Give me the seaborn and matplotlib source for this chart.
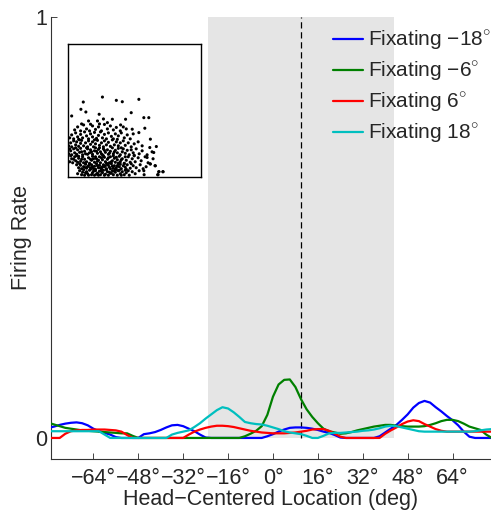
import numpy as np
import pandas as pd
import matplotlib
matplotlib.use("Agg")
import matplotlib.pyplot as plt
import seaborn as sns

# ---------------------------------------------------------------- data
locations = list(range(-80, 81, 2))

rate_fix_m18 = [0.024, 0.027, 0.031, 0.034, 0.036, 0.037, 0.035, 0.030, 0.022, 0.016,
                0.012, 0.008, 0.002, 0.0, 0.0, 0.0, 0.0, 0.009, 0.011, 0.014,
                0.019, 0.025, 0.030, 0.031, 0.028, 0.022, 0.016, 0.008, 0.001, 0.0,
                0.0, 0.0, 0.0, 0.0, 0.0, 0.0, 0.0, 0.0, 0.0, 0.004,
                0.009, 0.015, 0.020, 0.024, 0.025, 0.025, 0.024, 0.022, 0.019, 0.015,
                0.012, 0.007, 0.001, 0.0, 0.0, 0.0, 0.0, 0.0, 0.0, 0.004,
                0.013, 0.022, 0.031, 0.043, 0.056, 0.072, 0.083, 0.088, 0.084, 0.073,
                0.063, 0.052, 0.042, 0.030, 0.015, 0.003, 0.0, 0.0, 0.0, 0.0,
                0.0]

rate_fix_m6 = [0.036, 0.032, 0.028, 0.024, 0.022, 0.020, 0.018, 0.017, 0.016, 0.015,
               0.014, 0.013, 0.012, 0.011, 0.011, 0.005, 0.0, 0.0, 0.0, 0.0,
               0.0, 0.0, 0.0, 0.0, 0.0, 0.0, 0.0, 0.0, 0.0, 0.0,
               0.0, 0.0, 0.0, 0.0, 0.0, 0.004, 0.010, 0.017, 0.028, 0.055,
               0.098, 0.127, 0.138, 0.139, 0.121, 0.092, 0.068, 0.050, 0.035, 0.022,
               0.016, 0.013, 0.010, 0.011, 0.014, 0.018, 0.021, 0.024, 0.027, 0.029,
               0.031, 0.031, 0.029, 0.028, 0.027, 0.027, 0.027, 0.028, 0.031, 0.035,
               0.040, 0.043, 0.043, 0.040, 0.034, 0.027, 0.023, 0.019, 0.008, 0.0,
               0.0]

rate_fix_6 = [0.0, 0.0, 0.0, 0.010, 0.016, 0.018, 0.019, 0.019, 0.020, 0.020,
              0.020, 0.019, 0.018, 0.015, 0.007, 0.0, 0.0, 0.0, 0.0, 0.0,
              0.0, 0.0, 0.0, 0.0, 0.0, 0.008, 0.015, 0.020, 0.024, 0.027,
              0.029, 0.029, 0.028, 0.026, 0.023, 0.020, 0.017, 0.015, 0.013, 0.012,
              0.011, 0.011, 0.011, 0.012, 0.013, 0.015, 0.017, 0.020, 0.021, 0.021,
              0.017, 0.010, 0.003, 0.0, 0.0, 0.0, 0.0, 0.0, 0.0, 0.0,
              0.010, 0.018, 0.025, 0.033, 0.039, 0.042, 0.040, 0.033, 0.027, 0.021,
              0.017, 0.015, 0.015, 0.015, 0.015, 0.015, 0.015, 0.015, 0.015, 0.015,
              0.015]

rate_fix_18 = [0.016, 0.016, 0.016, 0.016, 0.016, 0.016, 0.016, 0.016, 0.016, 0.016,
               0.008, 0.0, 0.0, 0.0, 0.0, 0.0, 0.0, 0.0, 0.0, 0.0,
               0.0, 0.0, 0.008, 0.012, 0.015, 0.018, 0.026, 0.035, 0.046, 0.056,
               0.066, 0.073, 0.070, 0.061, 0.050, 0.038, 0.035, 0.033, 0.032, 0.029,
               0.025, 0.021, 0.016, 0.013, 0.011, 0.009, 0.005, 0.0, 0.0, 0.005,
               0.011, 0.012, 0.012, 0.013, 0.014, 0.015, 0.017, 0.018, 0.020, 0.023,
               0.027, 0.029, 0.028, 0.025, 0.022, 0.019, 0.016, 0.015, 0.015, 0.015,
               0.015, 0.015, 0.015, 0.015, 0.015, 0.015, 0.016, 0.018, 0.020, 0.021,
               0.022]

series_labels = ["Fixating \u221218$^{\\circ}$", "Fixating \u22126$^{\\circ}$",
                 "Fixating 6$^{\\circ}$", "Fixating 18$^{\\circ}$"]
series_colors = ["#0000ff", "#008000", "#ff0000", "#00bfbf"]

x_ticks = [-64, -48, -32, -16, 0, 16, 32, 48, 64]
y_ticks = [0, 1]

receptive_field = (-23, 43)
fixation_marker = 10

# inset raster (cell positions, inset pixel units)
cell_positions = [
    (9, 2), (11, 5), (13, 1), (14, 3.5), (16, 0.5), (18, 4), (19, 2), (21, 5.5), (23, 1), (24, 3),
    (26, 0.5), (27, 5), (29, 2.5), (31, 4.5), (32, 1), (34, 3), (35, 5.5), (37, 1.5), (39, 4), (40, 0.5),
    (42, 2.5), (44, 5), (45, 1), (47, 3.5), (49, 0.5), (50, 5), (52, 2), (54, 4), (56, 1), (58, 3),
    (61, 0.5), (64, 4), (67, 2), (71, 5), (76, 1), (90, 1), (95, 4), (91, 4), (20, 0.5), (28, 1.5),
    (36, 0.5), (43, 2.5), (51, 5.5), (60, 5), (15, 6), (33, 6), (48, 6),
    (8, 11), (10, 8), (12, 10.5), (13, 7), (15, 9), (17, 11.5), (18, 7.5), (20, 10), (22, 8), (23, 11),
    (25, 7), (26, 9.5), (28, 12), (30, 8), (31, 10.5), (33, 7.5), (35, 11), (36, 9), (38, 7), (40, 10.5),
    (41, 8.5), (43, 12), (45, 7.5), (46, 10), (48, 8), (50, 11.5), (51, 9), (53, 7), (55, 10), (57, 8.5),
    (59, 11), (62, 7.5), (65, 10), (68, 8), (72, 11), (78, 9), (82, 12), (87, 10), (75, 7), (11, 12),
    (27, 6.5), (39, 12), (47, 6.5), (56, 12), (63, 12), (19, 9), (34, 9), (44, 9.5),
    (1, 14), (3, 17), (4, 13), (6, 19), (7, 15), (9, 13.5), (10, 17.5), (12, 14.5), (14, 19), (15, 13),
    (16, 16.5), (18, 14), (20, 18), (21, 12.5), (23, 15.5), (24, 19.5), (26, 13.5), (28, 17), (29, 14.5), (31, 19),
    (32, 13), (34, 16), (36, 18.5), (37, 14), (39, 16.5), (41, 13), (42, 19), (44, 15), (46, 17.5), (47, 13.5),
    (49, 16), (51, 19.5), (52, 14), (54, 17), (56, 12.5), (58, 15.5), (60, 19), (62, 13.5), (64, 17), (67, 14),
    (70, 18), (73, 15), (77, 19), (80, 13), (85, 17), (8, 20), (25, 17), (35, 20), (45, 20), (57, 19),
    (66, 20), (2, 20), (13, 16.5), (38, 12.5), (50, 12.5),
    (0, 22), (2, 25), (3, 21), (5, 27), (6, 23), (8, 21.5), (9, 26), (11, 23.5), (12, 27.5), (14, 21),
    (16, 24.5), (17, 22), (19, 27), (21, 23), (22, 26), (24, 21.5), (26, 25), (27, 28), (29, 22.5), (30, 26.5),
    (32, 24), (34, 21), (35, 27), (37, 23.5), (39, 26), (40, 21.5), (42, 24.5), (44, 28), (45, 22), (47, 25.5),
    (49, 23), (50, 27.5), (52, 21), (54, 24), (55, 27), (57, 22.5), (59, 25.5), (61, 21), (63, 26), (65, 23),
    (68, 27), (71, 22), (74, 25), (79, 21), (84, 24), (7, 28), (18, 28), (31, 28), (53, 28), (66, 20.5),
    (1, 27),
    (0, 30), (2, 33), (3, 29), (5, 35), (7, 31), (8, 34), (10, 29.5), (12, 32.5), (13, 35.5), (15, 30),
    (17, 33), (19, 29), (20, 35), (22, 31.5), (24, 34), (25, 29), (27, 32), (29, 35.5), (31, 30.5), (33, 33),
    (35, 29), (36, 35), (38, 31), (40, 33.5), (42, 29.5), (44, 36), (46, 31), (48, 34), (50, 30), (52, 33),
    (55, 35), (57, 30.5), (60, 33), (63, 29), (66, 32), (70, 34), (74, 30), (11, 36), (26, 36), (49, 36.5),
    (1, 38), (3, 41), (5, 37), (7, 43), (9, 39), (10, 36.5), (12, 41.5), (14, 38), (16, 44), (18, 40),
    (20, 37), (22, 42), (24, 39), (26, 43.5), (28, 37.5), (30, 40.5), (32, 44), (34, 38), (36, 41.5), (38, 37),
    (40, 43), (43, 39.5), (45, 37), (47, 42), (50, 40), (53, 43), (56, 38), (59, 41), (62, 37), (65, 42),
    (6, 46), (9, 49), (12, 45), (15, 51), (18, 47), (21, 45), (24, 50), (27, 46.5), (30, 49), (33, 45),
    (36, 51.5), (39, 47), (42, 50), (45, 46), (48, 48.5), (52, 45), (55, 49), (58, 47), (13, 52), (31, 52),
    (22, 51.7), (29, 55), (39, 53.3), (44, 56.7), (52.3, 51), (57.3, 56.7), (30.7, 61.7), (3, 60), (12.3, 66.7), (17.3, 64),
    (14.7, 74), (34, 79), (48, 75.7), (54, 74.3), (70.7, 76.7), (63, 63.3), (75.7, 58.3), (80.7, 58.3), (76.7, 47.7), (64, 46.7),
    (70.7, 43.3), (82.3, 36.7), (88.3, 29.3), (81.7, 28.3), (85.7, 23.3), (79, 18.3), (82.3, 11.7), (87.3, 10), (95, 4), (90.7, 4),
    (89.7, 1), (75.7, 5), (20, 55), (35, 57),
    (17, 3), (22, 6.5), (25, 4.5), (30, 0.5), (33, 4.5), (38, 6), (41, 3.5), (46, 4.5), (53, 0.5), (57, 5.5),
    (16, 8.5), (21, 11.5), (24, 9), (29, 10), (32, 8), (37, 10), (42, 7), (49, 10), (52, 11.5), (58, 6.5),
    (17, 13), (22, 16.5), (27, 19), (30, 15.5), (33, 18), (40, 18), (43, 14), (48, 18.5), (53, 16), (19, 21.5),
    (23, 24), (28, 24.5), (33, 22), (36, 25.5), (41, 22.5), (46, 24), (13, 24), (10, 19.5), (5, 16.5),
]

# ---------------------------------------------------------------- style
sns.set_style("ticks")
plt.rcParams["font.family"] = ["Liberation Sans", "DejaVu Sans"]
plt.rcParams["mathtext.fontset"] = "custom"
plt.rcParams["mathtext.rm"] = "Liberation Sans"
FS = 15.5
LEG_FS = 15

df = pd.DataFrame({
    "location": locations * 4,
    "rate": rate_fix_m18 + rate_fix_m6 + rate_fix_6 + rate_fix_18,
    "fixation": sum([[lab] * len(locations) for lab in series_labels], []),
})

fig = plt.figure(figsize=(4.91, 5.14), dpi=100)
ax = fig.add_axes([51 / 491, 1 - 459 / 514, 1 - 51 / 491, (459 - 17) / 514])

# receptive-field window and current fixation marker
ax.fill_between(list(receptive_field), 0, 1, color="#e5e5e5", lw=0, zorder=0)
ax.plot([fixation_marker, fixation_marker], [0, 1], color="black", lw=0.9,
        dashes=(5, 3), zorder=1)

sns.lineplot(data=df, x="location", y="rate", hue="fixation",
             hue_order=series_labels, palette=series_colors,
             linewidth=1.6, ax=ax, zorder=3)

ax.set_xlim(-79.1, 77.7)
ax.set_ylim(-0.05, 1)
ax.set_xticks(x_ticks)
ax.set_xticklabels([f"{t}°".replace("-", "\u2212") for t in x_ticks], fontsize=FS)
ax.set_yticks(y_ticks)
ax.set_yticklabels([str(t) for t in y_ticks], fontsize=FS)
ax.tick_params(direction="in", length=4, width=0.6)
ax.tick_params(axis="x", pad=6.5)
ax.tick_params(axis="y", pad=3)
ax.set_xlabel("Head\u2212Centered Location (deg)", fontsize=FS, labelpad=0)
ax.set_ylabel("Firing Rate", fontsize=FS, labelpad=1.8)
for side in ("top", "right"):
    ax.spines[side].set_visible(False)
for side in ("left", "bottom"):
    ax.spines[side].set_linewidth(0.8)
    ax.spines[side].set_color("#333333")

leg = ax.legend(loc="upper left", bbox_to_anchor=(333 / 491, 1 - 29 / 514),
                bbox_transform=fig.transFigure, frameon=False, fontsize=LEG_FS,
                handlelength=1.45, handletextpad=0.25, labelspacing=0.36,
                borderpad=0, borderaxespad=0)
for line in leg.get_lines():
    line.set_linewidth(1.6)

# inset raster
ins = fig.add_axes([67.7 / 491, 1 - 176.7 / 514, 133 / 491, 132.4 / 514])
ins.set_facecolor("white")
pts = pd.DataFrame(cell_positions, columns=["u", "v"])
sns.scatterplot(data=pts, x="u", y="v", s=5, color="black", edgecolor="none",
                linewidth=0, ax=ins)
ins.set_xlim(-1, 133)
ins.set_ylim(-1, 132)
ins.set_xticks([])
ins.set_yticks([])
ins.set_xlabel("")
ins.set_ylabel("")
for sp in ins.spines.values():
    sp.set_visible(True)
    sp.set_color("black")
    sp.set_linewidth(1.0)

fig.savefig("out.png", dpi=100)
